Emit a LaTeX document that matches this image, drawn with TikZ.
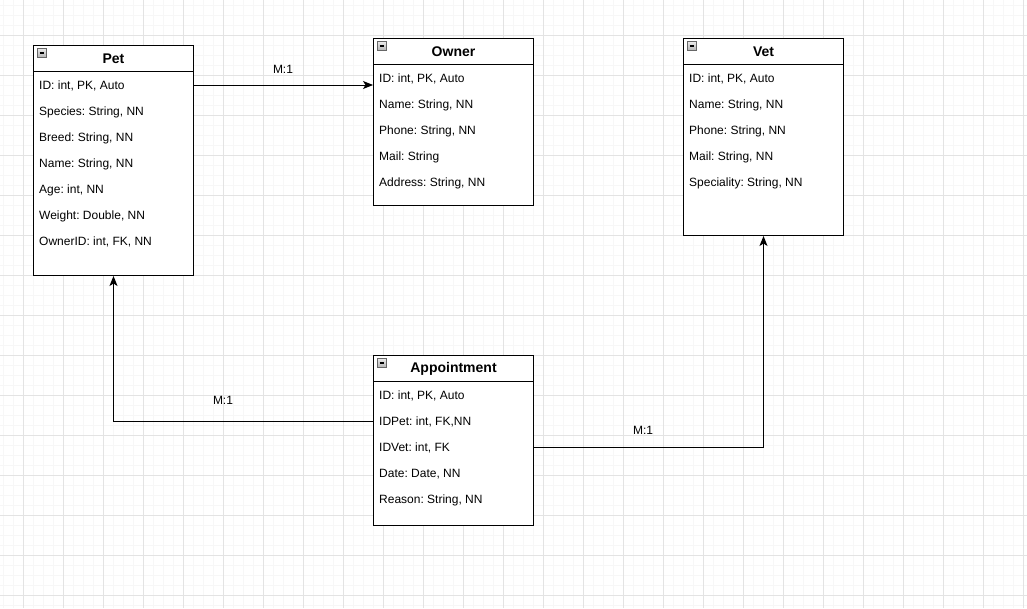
\documentclass[tikz,border=0pt]{standalone}
\usepackage{fontspec}
\setmainfont{Liberation Sans}
\usetikzlibrary{calc,arrows.meta}
\tikzset{
  gminor/.style={draw=black!3, line width=1pt},
  gmajor/.style={draw=black!11, line width=1pt},
  ebox/.style={draw=black, line width=1pt, fill=white, minimum width=160pt, anchor=north west, inner sep=0pt},
  etitle/.style={font=\fontsize{14pt}{16pt}\selectfont\bfseries, inner sep=0pt},
  eline/.style={draw=black, line width=1pt},
  erow/.style={anchor=west, inner sep=0pt, font=\fontsize{12pt}{14pt}\selectfont\frenchspacing},
  emin/.style={draw=black!60, line width=0.8pt, minimum size=9pt, inner sep=0pt, outer sep=0pt, top color=black!8, bottom color=black!30,
    path picture={\draw[black, line width=1.3pt] ([xshift=2.2pt]path picture bounding box.west) -- ([xshift=-2.2pt]path picture bounding box.east);}},
  conn/.style={draw=black, line width=1pt, -{Stealth[length=10pt,width=8pt,inset=2.5pt]}},
  lbl/.style={inner sep=0pt, font=\fontsize{12pt}{14pt}\selectfont}
}
\newcommand{\entity}[6]{%
  \node[ebox, minimum height=#4pt] (#1) at (#2,#3) {};
  \node[etitle] (#1-t) at ($(#1.north)+(0,14)$) {#5};
  \draw[eline] ($(#1.north west)+(0,26)$) -- ($(#1.north east)+(0,26)$);
  \node[emin] (#1-m) at ($(#1.north west)+(9,8)$) {};
  \foreach \t [count=\i] in {#6} {
    \node[erow] (#1-\i) at ($(#1.north west)+(6,15+26*\i)$) {\t};
    \coordinate (#1-c\i) at ($(#1.north west)+(0,14+26*\i)$);
  }
}
\begin{document}
\begin{tikzpicture}[x=1pt,y=-1pt]
\useasboundingbox (0,0) rectangle (1027,608);
\fill[white] (0,0) rectangle (1027,608);
% grid
\foreach \x in {3,13,...,1023} \draw[gminor] (\x,0) -- (\x,608);
\foreach \y in {5,15,...,605} \draw[gminor] (0,\y) -- (1027,\y);
\foreach \x in {23,63,...,1023} \draw[gmajor] (\x,0) -- (\x,608);
\foreach \y in {35,75,...,595} \draw[gmajor] (0,\y) -- (1027,\y);
% entities
\entity{pet}{33}{45}{230}{Pet}{{ID: int, PK, Auto},{Species: String, NN},{Breed: String, NN},{Name: String, NN},{Age: int, NN},{Weight: Double, NN},{OwnerID: int, FK, NN}}
\entity{owner}{373}{38}{167}{Owner}{{ID: int, PK, Auto},{Name: String, NN},{Phone: String, NN},{Mail: String},{Address: String, NN}}
\entity{vet}{683}{38}{197}{Vet}{{ID: int, PK, Auto},{Name: String, NN},{Phone: String, NN},{Mail: String, NN},{Speciality: String, NN}}
\entity{appt}{373}{355}{170}{Appointment}{{ID: int, PK, Auto},{IDPet: int, FK,NN},{IDVet: int, FK},{Date: Date, NN},{Reason: String, NN}}
% connectors
\draw[conn] (pet.east |- pet-c1) -- (owner.west |- pet-c1);
\draw[conn] (appt.west |- appt-c2) -| (pet.south);
\draw[conn] (appt.east |- appt-c3) -| (vet.south);
% labels
\node[lbl] (l1) at (283,69) {M:1};
\node[lbl] (l2) at (223,400) {M:1};
\node[lbl] (l3) at (643,430) {M:1};
\end{tikzpicture}
\end{document}
